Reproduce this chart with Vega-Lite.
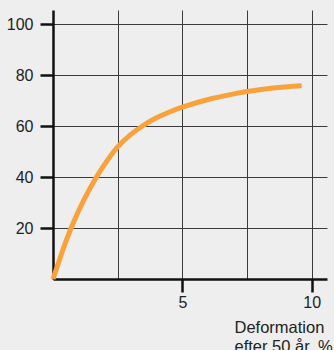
{
  "$schema": "https://vega.github.io/schema/vega-lite/v6.json",
  "width": 274,
  "height": 269,
  "autosize": "none",
  "padding": {"left": 53, "top": 10, "right": 7, "bottom": 71},
  "background": "#eeeeee",
  "config": {"view": {"stroke": null}, "font": "Liberation Sans"},
  "data": {"values": [
    {"x": 0, "y": 0}, {"x": 0.35, "y": 10.5}, {"x": 0.7, "y": 20}, {"x": 1.17, "y": 30.5},
    {"x": 1.68, "y": 40}, {"x": 2.1, "y": 46.5}, {"x": 2.5, "y": 51.8}, {"x": 3.0, "y": 56.6},
    {"x": 3.5, "y": 60.3}, {"x": 4.0, "y": 63.2}, {"x": 4.5, "y": 65.5}, {"x": 5, "y": 67.4},
    {"x": 6, "y": 70.4}, {"x": 7, "y": 72.6}, {"x": 7.5, "y": 73.5}, {"x": 8.5, "y": 74.9},
    {"x": 9.61, "y": 75.8}
  ]},
  "mark": {"type": "line", "color": "#f9a23c", "strokeWidth": 5, "interpolate": "natural", "strokeCap": "butt"},
  "encoding": {
    "x": {
      "field": "x", "type": "quantitative",
      "scale": {"domain": [0, 10.59], "nice": false, "zero": true},
      "axis": {
        "values": [2.5, 5, 7.5, 10],
        "labelExpr": "datum.value % 5 == 0 ? datum.label : ''",
        "tickOpacity": {"condition": {"test": "datum.value % 5 == 0", "value": 1}, "value": 0},
        "tickSize": 13, "tickWidth": 2.5, "tickColor": "#111",
        "domainColor": "#111", "domainWidth": 2.5,
        "grid": true, "gridColor": "#3a3a3a", "gridWidth": 1,
        "labelFontSize": 16, "labelColor": "#222", "labelPadding": 2,
        "title": ["Deformation", "efter 50 år, %"],
        "titleFontSize": 16.5, "titleFontWeight": "normal", "titleColor": "#222",
        "titleAlign": "left", "titleAnchor": "start", "titleBaseline": "alphabetic",
        "titleX": 181, "titleY": 53, "titleLineHeight": 19
      }
    },
    "y": {
      "field": "y", "type": "quantitative",
      "scale": {"domain": [0, 105.5], "nice": false},
      "axis": {
        "values": [20, 40, 60, 80, 100],
        "tickSize": 13, "tickWidth": 2.5, "tickColor": "#111",
        "domainColor": "#111", "domainWidth": 2.5,
        "grid": true, "gridColor": "#3a3a3a", "gridWidth": 1,
        "labelFontSize": 16, "labelColor": "#222", "labelPadding": 7,
        "title": null
      }
    }
  }
}
